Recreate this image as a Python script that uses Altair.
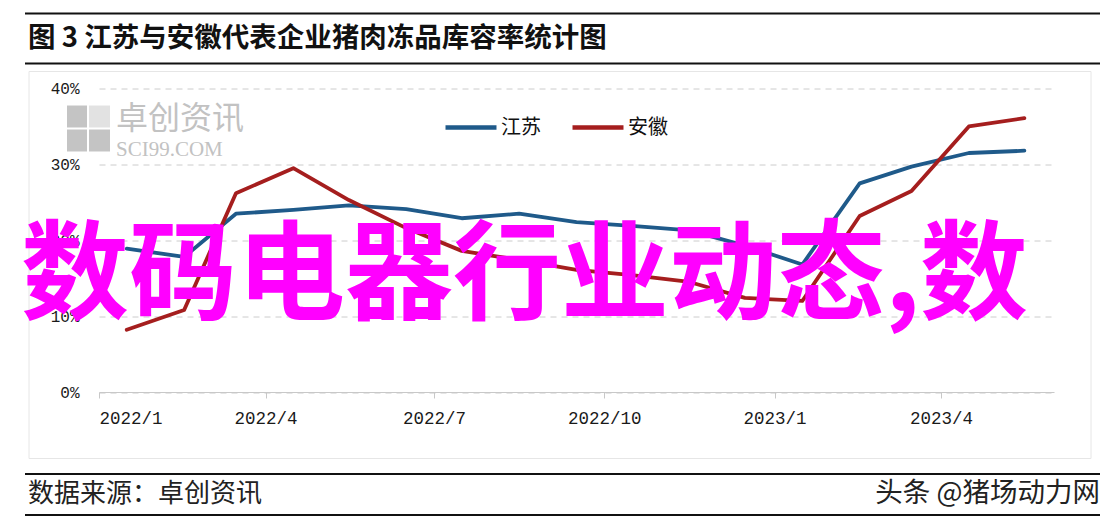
import altair as alt
import pandas as pd

# ---- data ----
months = ["2022-01-16", "2022-02-16", "2022-03-16", "2022-04-16", "2022-05-16", "2022-06-16",
          "2022-07-16", "2022-08-16", "2022-09-16", "2022-10-16", "2022-11-16", "2022-12-16",
          "2023-01-16", "2023-02-16", "2023-03-16", "2023-04-16", "2023-05-16"]
jiangsu = [18.9, 17.8, 23.5, 24.0, 24.6, 24.1, 22.9, 23.5, 22.4, 21.9, 21.3, 19.3,
           16.8, 27.5, 29.7, 31.5, 31.8]
anhui = [8.2, 10.8, 26.2, 29.5, 25.3, 21.6, 18.6, 17.4, 16.1, 15.4, 14.5, 12.4,
         12.0, 23.2, 26.5, 35.0, 36.1]
series_names = ["江苏", "安徽"]
series_colors = ["#1f5a8a", "#a51e1e"]
y_ticks = [0, 10, 20, 30, 40]

title_text = "图 3  江苏与安徽代表企业猪肉冻品库容率统计图"
source_text = "数据来源：卓创资讯"
credit_text = "头条 @猪场动力网"
overlay_text = "数码电器行业动态,数"

rows = []
for name, vals in zip(series_names, [jiangsu, anhui]):
    for m, v in zip(months, vals):
        rows.append({"date": m, "value": v, "series": name})
df = pd.DataFrame(rows)

W, H = 955, 303.5
one = alt.Data(values=[{"k": 1}])

x_ticks = [alt.DateTime(year=y, month=mo, date=1, utc=True)
           for y, mo in [(2022, 1), (2022, 4), (2022, 7), (2022, 10), (2023, 1), (2023, 4)]]

lines = alt.Chart(df).mark_line(strokeWidth=3.8, strokeCap="round", strokeJoin="round").encode(
    x=alt.X("date:T",
            scale=alt.Scale(type="utc",
                            domain=[alt.DateTime(year=2022, month=1, date=1, utc=True),
                                    alt.DateTime(year=2023, month=6, date=1, utc=True)]),
            axis=alt.Axis(title=None, values=x_ticks, format="%Y/%-m", grid=False,
                          domainColor="#c8c8c8", domainWidth=1.2, tickColor="#c8c8c8",
                          tickSize=6, labelFont="Liberation Mono", labelFontSize=17.5,
                          labelColor="#1a1a1a", labelPadding=11)),
    y=alt.Y("value:Q", scale=alt.Scale(domain=[0, 40], nice=False),
            axis=alt.Axis(title=None, values=y_ticks, labelExpr="datum.value + '%'",
                          domain=False, ticks=False, gridColor="#cccccc", gridDash=[6, 5],
                          gridWidth=1, labelFont="Liberation Mono", labelFontSize=16,
                          labelColor="#1a1a1a", labelPadding=20)),
    color=alt.Color("series:N",
                    scale=alt.Scale(domain=series_names, range=series_colors),
                    sort=series_names,
                    legend=alt.Legend(title=None, orient="none", legendX=344, legendY=11,
                                      direction="horizontal", symbolType="stroke",
                                      symbolSize=2600, symbolStrokeWidth=4.5,
                                      labelFont="Noto Sans CJK SC", labelFontSize=20,
                                      labelColor="#111111", labelOffset=2,
                                      columnPadding=22)),
)

def rule(x1, x2, y, color="#111111", w=2.0):
    return alt.Chart(one).mark_rule(color=color, strokeWidth=w).encode(
        x=alt.value(x1), x2=alt.value(x2), y=alt.value(y))

def text(t, x, y, size, font="Noto Sans CJK SC", color="#111111", weight="normal",
         align="left", baseline="middle"):
    return alt.Chart(one).mark_text(text=t, font=font, fontSize=size, color=color,
                                    fontWeight=weight, align=align, baseline=baseline).encode(
        x=alt.value(x), y=alt.value(y))

frame = alt.Chart(one).mark_rect(fillOpacity=0, stroke="#e6e6e6", strokeWidth=1).encode(
    x=alt.value(-70), x2=alt.value(992), y=alt.value(-17), y2=alt.value(370))

logo = alt.Chart(alt.Data(values=[
    {"a": -32, "b": -12, "c": 17, "d": 39, "f": "#c4c4c4"},
    {"a": -32, "b": -12, "c": 41, "d": 63, "f": "#c4c4c4"},
    {"a": -10, "b": 11, "c": 17, "d": 39, "f": "#e2e2e2"},
    {"a": -10, "b": 11, "c": 41, "d": 63, "f": "#c4c4c4"},
])).mark_rect().encode(
    x=alt.X("a:Q", scale=None), x2="b:Q", y=alt.Y("c:Q", scale=None), y2="d:Q",
    color=alt.Color("f:N", scale=None))

layers = [
    frame,
    logo,
    text("卓创资讯", 17, 30, 32, color="#c2c2c2"),
    text("SCI99.COM", 17, 61, 21, font="Liberation Serif", color="#c2c2c2"),
    lines,
    rule(-74, 1001, -75),
    text(title_text, -71, -50, 27.5, weight="bold"),
    rule(-74, 1001, -25),
    text(overlay_text, -78, 190, 108, color="#ff00ff", weight="bold"),
    rule(-74, 1001, 385.5),
    text(source_text, -71, 405.5, 26, color="#222222"),
    text(credit_text, 1001, 405.5, 27.5, color="#222222", align="right"),
    rule(-74, 1001, 426.5),
]

chart = alt.layer(*layers).properties(
    width=W, height=H,
    autosize=alt.AutoSizeParams(type="none"),
    padding={"left": 91, "top": 80.5, "right": 54, "bottom": 128},
    background="white",
).configure_view(stroke=None)

chart.save("out.html", embed_options={"renderer": "svg", "actions": False})
